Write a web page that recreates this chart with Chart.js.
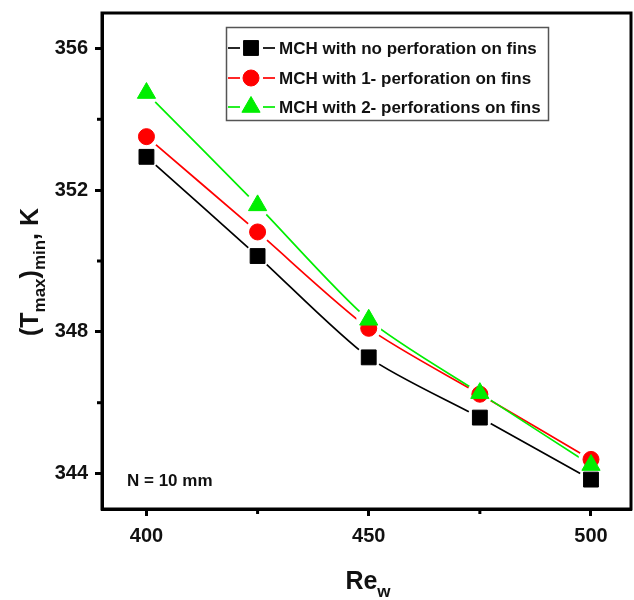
<!DOCTYPE html>
<html>
<head>
<meta charset="utf-8">
<script src="https://cdn.jsdelivr.net/npm/chart.js@4/dist/chart.umd.min.js"></script>
<style>
  html, body { margin: 0; padding: 0; background: #fff; }
  #wrap { width: 634px; height: 600px; position: relative; }
</style>
</head>
<body>
<div id="wrap"><canvas id="c" width="634" height="600"></canvas></div>
<script>
// Reynolds numbers of the water flow
const reynolds = [400, 425, 450, 475, 500];
// (Tmax)min in K for each fin configuration
const tempNoPerf  = [352.94, 350.14, 347.28, 345.58, 343.83];
const tempOnePerf = [353.51, 350.82, 348.10, 346.24, 344.40];
const tempTwoPerf = [354.74, 351.57, 348.34, 346.27, 344.24];
const seriesNames = [
  'MCH with no perforation on fins',
  'MCH with 1- perforation on fins',
  'MCH with 2- perforations on fins'
];
const xTicks = [400, 450, 500];
const xMinorTicks = [425, 475];
const yTicks = [344, 348, 352, 356];
const yMinorTicks = [346, 350, 354];
const noteText = 'N = 10 mm';

const FONT = '"Liberation Sans", Arial, Helvetica, sans-serif';

const styles = [
  { color: '#000000', pointStyle: 'rect',     radius: 10.5 },
  { color: '#ff0000', pointStyle: 'circle',   radius: 8 },
  { color: '#00ee00', pointStyle: 'triangle', radius: 10.5 }
];
const seriesValues = [tempNoPerf, tempOnePerf, tempTwoPerf];

// Draw order (higher is drawn first): curves, white gaps, then markers
// with the later series on top.
const datasets = [];
seriesValues.forEach((vals, i) => {
  const pts = reynolds.map((x, k) => ({ x: x, y: vals[k] }));
  const st = styles[i];
  // connecting curve
  datasets.push({
    label: seriesNames[i], data: pts, order: 10 - i,
    borderColor: st.color, borderWidth: 1.7, tension: 0.25,
    pointRadius: 0, fill: false
  });
  // white gap around each marker
  datasets.push({
    label: seriesNames[i] + ' gap', data: pts, order: 6, showLine: false,
    pointStyle: 'circle', pointRadius: 12.5,
    pointBackgroundColor: '#ffffff', pointBorderColor: '#ffffff', pointBorderWidth: 0
  });
  // markers
  datasets.push({
    label: seriesNames[i] + ' markers', data: pts, order: 3 - i, showLine: false,
    pointStyle: st.pointStyle, pointRadius: st.radius,
    pointBackgroundColor: st.color, pointBorderColor: st.color, pointBorderWidth: 1
  });
});

function drawRich(ctx, parts, cx, cy, mainSize, subSize, subShift) {
  let total = 0;
  parts.forEach(p => {
    ctx.font = 'bold ' + (p.sub ? subSize : mainSize) + 'px ' + FONT;
    p.w = ctx.measureText(p.t).width;
    total += p.w;
  });
  let x = cx - total / 2;
  ctx.textAlign = 'left';
  ctx.textBaseline = 'alphabetic';
  parts.forEach(p => {
    ctx.font = 'bold ' + (p.sub ? subSize : mainSize) + 'px ' + FONT;
    ctx.fillText(p.t, x, cy + (p.sub ? subShift : 0));
    x += p.w;
  });
}

function marker(ctx, st, x, y) {
  ctx.fillStyle = st.color;
  ctx.strokeStyle = st.color;
  ctx.lineWidth = 1;
  if (Chart.helpers && Chart.helpers.drawPoint) {
    Chart.helpers.drawPoint(ctx, { pointStyle: st.pointStyle, radius: st.radius, rotation: 0, borderWidth: 1 }, x, y);
  }
}

const decor = {
  id: 'decor',
  afterDraw(chart) {
    const ctx = chart.ctx;
    const a = chart.chartArea;
    const xs = chart.scales.x, ys = chart.scales.y;
    ctx.save();
    // frame
    ctx.strokeStyle = '#000';
    ctx.lineWidth = 3;
    ctx.strokeRect(a.left, a.top, a.right - a.left, a.bottom - a.top);
    // minor ticks
    xMinorTicks.forEach(v => {
      const px = xs.getPixelForValue(v);
      ctx.beginPath(); ctx.moveTo(px, a.bottom); ctx.lineTo(px, a.bottom + 5); ctx.stroke();
    });
    yMinorTicks.forEach(v => {
      const py = ys.getPixelForValue(v);
      ctx.beginPath(); ctx.moveTo(a.left, py); ctx.lineTo(a.left - 5, py); ctx.stroke();
    });

    // legend box
    const lx = 226, ly = 27, lw = 322, lh = 93;
    ctx.fillStyle = '#fff';
    ctx.fillRect(lx, ly, lw, lh);
    ctx.strokeStyle = '#555';
    ctx.lineWidth = 1.5;
    ctx.strokeRect(lx + 0.5, ly + 0.5, lw, lh);
    const rows = [48, 78, 107];
    rows.forEach((ry, i) => {
      const st = styles[i];
      ctx.strokeStyle = st.color;
      ctx.lineWidth = 1.7;
      ctx.beginPath(); ctx.moveTo(228, ry); ctx.lineTo(240, ry); ctx.stroke();
      ctx.beginPath(); ctx.moveTo(263, ry); ctx.lineTo(275, ry); ctx.stroke();
      marker(ctx, st, 251, ry);
      ctx.fillStyle = '#111';
      ctx.font = 'bold 17px ' + FONT;
      ctx.textAlign = 'left';
      ctx.textBaseline = 'middle';
      ctx.fillText(seriesNames[i], 279, ry + 1);
    });

    // annotation
    ctx.fillStyle = '#111';
    ctx.font = 'bold 17px ' + FONT;
    ctx.textAlign = 'left';
    ctx.textBaseline = 'middle';
    ctx.fillText(noteText, 127, 481);

    // x axis title
    ctx.fillStyle = '#111';
    drawRich(ctx, [{ t: 'Re' }, { t: 'w', sub: true }], 368, 589, 25, 17, 8);

    // y axis title
    ctx.save();
    ctx.translate(38, 272);
    ctx.rotate(-Math.PI / 2);
    drawRich(ctx, [
      { t: '(T' }, { t: 'max', sub: true }, { t: ')' }, { t: 'min', sub: true }, { t: ', K' }
    ], 0, 0, 25, 17, 7);
    ctx.restore();

    ctx.restore();
  }
};

const tickFont = { family: FONT, size: 20, weight: 'bold' };

new Chart(document.getElementById('c'), {
  type: 'line',
  data: { datasets: datasets },
  options: {
    responsive: false,
    animation: false,
    events: [],
    layout: { autoPadding: false, padding: { top: 13, right: 3, left: 0, bottom: 0 } },
    plugins: { legend: { display: false }, tooltip: { enabled: false } },
    scales: {
      x: {
        type: 'linear', min: 390, max: 509,
        afterBuildTicks: s => { s.ticks = xTicks.map(v => ({ value: v })); },
        afterFit: s => { s.height = 91; s.paddingLeft = 0; s.paddingRight = 0; },
        ticks: { font: tickFont, color: '#111', padding: 8, maxRotation: 0 },
        grid: { drawOnChartArea: false, drawTicks: true, tickLength: 7, tickWidth: 3, tickColor: '#000' },
        border: { display: true, color: '#000', width: 3 }
      },
      y: {
        type: 'linear', min: 343, max: 357,
        afterBuildTicks: s => { s.ticks = yTicks.map(v => ({ value: v })); },
        afterFit: s => { s.width = 102; s.paddingTop = 0; s.paddingBottom = 0; },
        ticks: { font: tickFont, color: '#111', padding: 7 },
        grid: { drawOnChartArea: false, drawTicks: true, tickLength: 7, tickWidth: 3, tickColor: '#000' },
        border: { display: true, color: '#000', width: 3 }
      }
    }
  },
  plugins: [decor]
});
</script>
</body>
</html>
